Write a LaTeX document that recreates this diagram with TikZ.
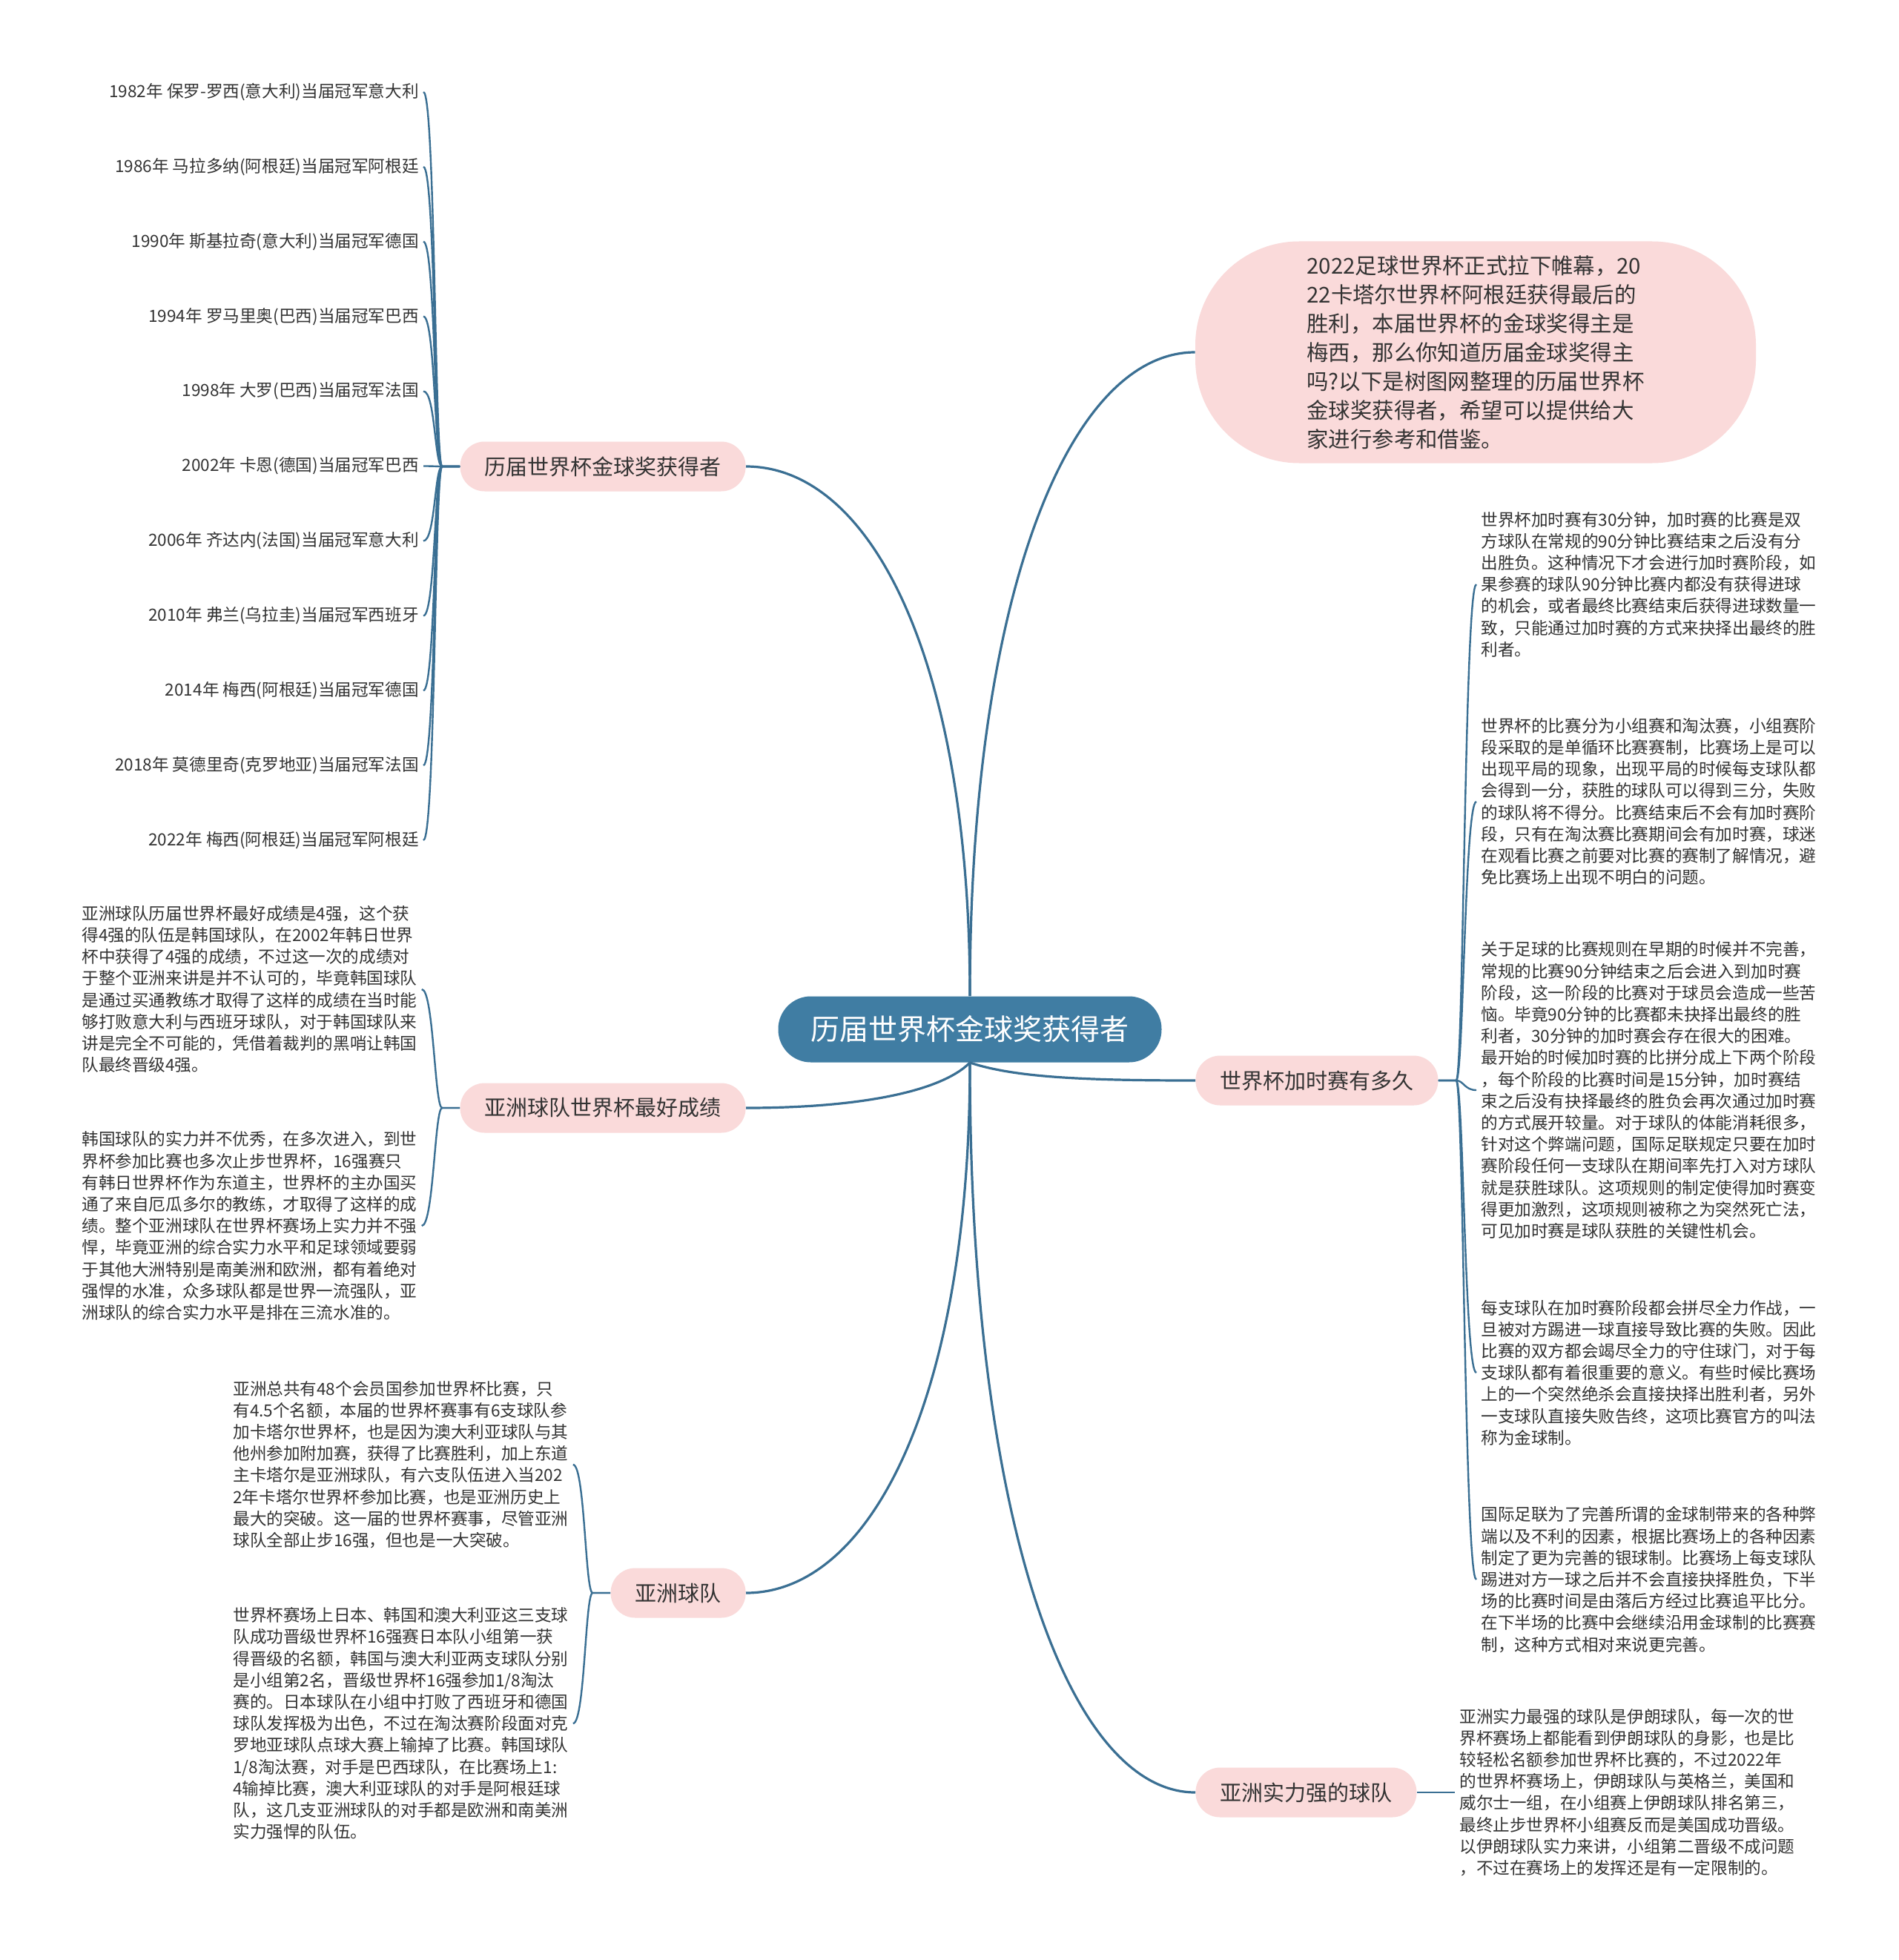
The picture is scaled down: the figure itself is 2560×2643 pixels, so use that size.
\documentclass[tikz,border=0pt]{standalone}
\usepackage{fontspec}
\setmainfont{Noto Sans CJK SC}
\usetikzlibrary{positioning}
\definecolor{hubblue}{HTML}{407DA3}
\definecolor{linkblue}{HTML}{3A6F93}
\definecolor{tagpink}{HTML}{FADADA}
\definecolor{inktext}{HTML}{333333}

\begin{document}
\begin{tikzpicture}[x=0.5pt, y=-0.5pt,
    every node/.style={text=inktext},
    hub/.style={rectangle, rounded corners=22pt, fill=hubblue, text=white,
                font=\fontsize{19.5}{22}\selectfont, minimum height=44.5pt, inner xsep=22pt},
    topic/.style={rectangle, rounded corners=16.5pt, fill=tagpink,
                  font=\fontsize{14.5}{17}\selectfont, minimum height=33.5pt, inner xsep=16.5pt},
    intro/.style={rectangle, rounded corners=70pt, fill=tagpink, align=left,
                  font=\fontsize{14.7}{19.5}\selectfont, minimum width=378pt, minimum height=149.5pt},
    leaf/.style={font=\fontsize{11.3}{14.6}\selectfont, inner sep=3pt},
    para/.style={leaf, align=left},
    link/.style={draw=linkblue, line width=1.6pt},
    twig/.style={draw=linkblue, line width=1.2pt}
  ]
    \useasboundingbox (0,0) rectangle (2560,2643);
    \fill[white] (0,0) rectangle (2560,2643);

    % centre and main topics
    \node[hub] (c) at (1308,1388) {历届世界杯金球奖获得者};
    \node[topic, anchor=east] (b1) at (1006,629) {历届世界杯金球奖获得者};
    \node[topic, anchor=east] (b2) at (1006,1494) {亚洲球队世界杯最好成绩};
    \node[topic, anchor=east] (b3) at (1006,2148) {亚洲球队};
    \node[intro] (intro) at (1990,475) {2022足球世界杯正式拉下帷幕，20\\
      22卡塔尔世界杯阿根廷获得最后的\\
      胜利，本届世界杯的金球奖得主是\\
      梅西，那么你知道历届金球奖得主\\
      吗?以下是树图网整理的历届世界杯\\
      金球奖获得者，希望可以提供给大\\
      家进行参考和借鉴。};
    \node[topic, anchor=west] (b4) at (1612,1457) {世界杯加时赛有多久};
    \node[topic, anchor=west] (b5) at (1612,2417) {亚洲实力强的球队};

    \draw[link] (c.north) .. controls +(0,-450) and +(170,0) .. (b1.east);
    \draw[link] (c.north) .. controls +(0,-540) and +(-170,0) .. (intro.west);
    \draw[link] (c.south) .. controls +(-40,40) and +(150,0) .. (b2.east);
    \draw[link] (c.south) .. controls +(0,450) and +(170,0) .. (b3.east);
    \draw[link] (c.south) .. controls +(60,20) and +(-150,0) .. (b4.west);
    \draw[link] (c.south) .. controls +(0,620) and +(-170,0) .. (b5.west);

    % winners by year
    \foreach \txt [count=\i] in {1982年 保罗-罗西(意大利)当届冠军意大利,
        1986年 马拉多纳(阿根廷)当届冠军阿根廷,
        1990年 斯基拉奇(意大利)当届冠军德国,
        1994年 罗马里奥(巴西)当届冠军巴西,
        1998年 大罗(巴西)当届冠军法国,
        2002年 卡恩(德国)当届冠军巴西,
        2006年 齐达内(法国)当届冠军意大利,
        2010年 弗兰(乌拉圭)当届冠军西班牙,
        2014年 梅西(阿根廷)当届冠军德国,
        2018年 莫德里奇(克罗地亚)当届冠军法国,
        2022年 梅西(阿根廷)当届冠军阿根廷} {
      \node[leaf, anchor=east] (y\i) at (571,{124+100.9*(\i-1)}) {\txt};
      \draw[twig] (b1.west) -- ++(-24,0) .. controls +(-10,0) and +(16,0) .. (y\i.east);
    }

    % best results of Asian teams
    \node[para, anchor=west] (ab1) at (104,1334) {亚洲球队历届世界杯最好成绩是4强，这个获\\
      得4强的队伍是韩国球队，在2002年韩日世界\\
      杯中获得了4强的成绩，不过这一次的成绩对\\
      于整个亚洲来讲是并不认可的，毕竟韩国球队\\
      是通过买通教练才取得了这样的成绩在当时能\\
      够打败意大利与西班牙球队，对于韩国球队来\\
      讲是完全不可能的，凭借着裁判的黑哨让韩国\\
      队最终晋级4强。};
    \node[para, anchor=west] (ab2) at (104,1653) {韩国球队的实力并不优秀，在多次进入，到世\\
      界杯参加比赛也多次止步世界杯，16强赛只\\
      有韩日世界杯作为东道主，世界杯的主办国买\\
      通了来自厄瓜多尔的教练，才取得了这样的成\\
      绩。整个亚洲球队在世界杯赛场上实力并不强\\
      悍，毕竟亚洲的综合实力水平和足球领域要弱\\
      于其他大洲特别是南美洲和欧洲，都有着绝对\\
      强悍的水准，众多球队都是世界一流强队，亚\\
      洲球队的综合实力水平是排在三流水准的。};
    \draw[twig] (b2.west) -- ++(-24,0) .. controls +(-10,0) and +(16,0) .. (ab1.east);
    \draw[twig] (b2.west) -- ++(-24,0) .. controls +(-10,0) and +(16,0) .. (ab2.east);

    % Asian teams
    \node[para, anchor=west] (at1) at (308,1975) {亚洲总共有48个会员国参加世界杯比赛，只\\
      有4.5个名额，本届的世界杯赛事有6支球队参\\
      加卡塔尔世界杯，也是因为澳大利亚球队与其\\
      他州参加附加赛，获得了比赛胜利，加上东道\\
      主卡塔尔是亚洲球队，有六支队伍进入当202\\
      2年卡塔尔世界杯参加比赛，也是亚洲历史上\\
      最大的突破。这一届的世界杯赛事，尽管亚洲\\
      球队全部止步16强，但也是一大突破。};
    \node[para, anchor=west] (at2) at (308,2324) {世界杯赛场上日本、韩国和澳大利亚这三支球\\
      队成功晋级世界杯16强赛日本队小组第一获\\
      得晋级的名额，韩国与澳大利亚两支球队分别\\
      是小组第2名，晋级世界杯16强参加1/8淘汰\\
      赛的。日本球队在小组中打败了西班牙和德国\\
      球队发挥极为出色，不过在淘汰赛阶段面对克\\
      罗地亚球队点球大赛上输掉了比赛。韩国球队\\
      1/8淘汰赛，对手是巴西球队，在比赛场上1:\\
      4输掉比赛，澳大利亚球队的对手是阿根廷球\\
      队，这几支亚洲球队的对手都是欧洲和南美洲\\
      实力强悍的队伍。};
    \draw[twig] (b3.west) -- ++(-24,0) .. controls +(-10,0) and +(16,0) .. (at1.east);
    \draw[twig] (b3.west) -- ++(-24,0) .. controls +(-10,0) and +(16,0) .. (at2.east);

    % extra time
    \node[para, anchor=west] (et1) at (1991,788) {世界杯加时赛有30分钟，加时赛的比赛是双\\
      方球队在常规的90分钟比赛结束之后没有分\\
      出胜负。这种情况下才会进行加时赛阶段，如\\
      果参赛的球队90分钟比赛内都没有获得进球\\
      的机会，或者最终比赛结束后获得进球数量一\\
      致，只能通过加时赛的方式来抉择出最终的胜\\
      利者。};
    \node[para, anchor=west] (et2) at (1991,1081) {世界杯的比赛分为小组赛和淘汰赛，小组赛阶\\
      段采取的是单循环比赛赛制，比赛场上是可以\\
      出现平局的现象，出现平局的时候每支球队都\\
      会得到一分，获胜的球队可以得到三分，失败\\
      的球队将不得分。比赛结束后不会有加时赛阶\\
      段，只有在淘汰赛比赛期间会有加时赛，球迷\\
      在观看比赛之前要对比赛的赛制了解情况，避\\
      免比赛场上出现不明白的问题。};
    \node[para, anchor=west] (et3) at (1991,1470) {关于足球的比赛规则在早期的时候并不完善，\\
      常规的比赛90分钟结束之后会进入到加时赛\\
      阶段，这一阶段的比赛对于球员会造成一些苦\\
      恼。毕竟90分钟的比赛都未抉择出最终的胜\\
      利者，30分钟的加时赛会存在很大的困难。\\
      最开始的时候加时赛的比拼分成上下两个阶段\\
      ，每个阶段的比赛时间是15分钟，加时赛结\\
      束之后没有抉择最终的胜负会再次通过加时赛\\
      的方式展开较量。对于球队的体能消耗很多，\\
      针对这个弊端问题，国际足联规定只要在加时\\
      赛阶段任何一支球队在期间率先打入对方球队\\
      就是获胜球队。这项规则的制定使得加时赛变\\
      得更加激烈，这项规则被称之为突然死亡法，\\
      可见加时赛是球队获胜的关键性机会。};
    \node[para, anchor=west] (et4) at (1991,1851) {每支球队在加时赛阶段都会拼尽全力作战，一\\
      旦被对方踢进一球直接导致比赛的失败。因此\\
      比赛的双方都会竭尽全力的守住球门，对于每\\
      支球队都有着很重要的意义。有些时候比赛场\\
      上的一个突然绝杀会直接抉择出胜利者，另外\\
      一支球队直接失败告终，这项比赛官方的叫法\\
      称为金球制。};
    \node[para, anchor=west] (et5) at (1991,2130) {国际足联为了完善所谓的金球制带来的各种弊\\
      端以及不利的因素，根据比赛场上的各种因素\\
      制定了更为完善的银球制。比赛场上每支球队\\
      踢进对方一球之后并不会直接抉择胜负，下半\\
      场的比赛时间是由落后方经过比赛追平比分。\\
      在下半场的比赛中会继续沿用金球制的比赛赛\\
      制，这种方式相对来说更完善。};
    \foreach \p in {et1,et2,et3,et4,et5}
      \draw[twig] (b4.east) -- ++(24,0) .. controls +(10,0) and +(-16,0) .. (\p.west);

    % strongest Asian team
    \node[para, anchor=west] (ir1) at (1962,2417) {亚洲实力最强的球队是伊朗球队，每一次的世\\
      界杯赛场上都能看到伊朗球队的身影，也是比\\
      较轻松名额参加世界杯比赛的，不过2022年\\
      的世界杯赛场上，伊朗球队与英格兰，美国和\\
      威尔士一组，在小组赛上伊朗球队排名第三，\\
      最终止步世界杯小组赛反而是美国成功晋级。\\
      以伊朗球队实力来讲，小组第二晋级不成问题\\
      ，不过在赛场上的发挥还是有一定限制的。};
    \draw[twig] (b5.east) -- (ir1.west);
\end{tikzpicture}
\end{document}
